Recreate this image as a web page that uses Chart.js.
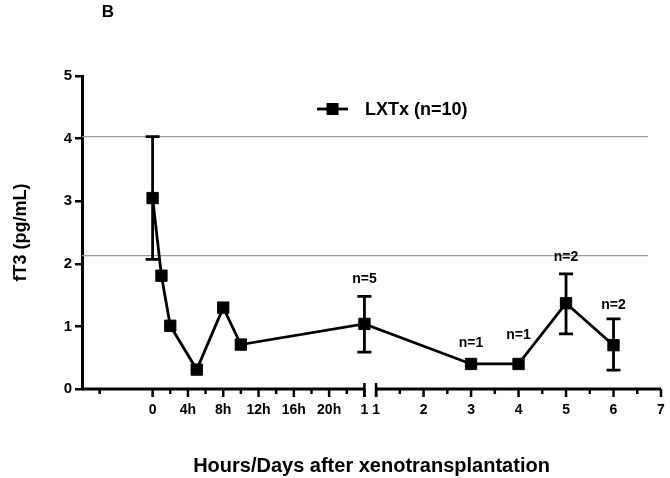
<!DOCTYPE html>
<html>
<head>
<meta charset="utf-8">
<script src="https://cdn.jsdelivr.net/npm/chart.js@4.4.0/dist/chart.umd.min.js"></script>
<style>
  html, body { margin: 0; padding: 0; background: #fff; }
</style>
</head>
<body>
<canvas id="myChart" width="670" height="478"></canvas>
<script>
// hours segment (0h .. 24h = day 1)
const hours = [0, 1, 2, 5, 8, 10, 24];
const hourValues = [3.05, 1.81, 1.01, 0.31, 1.30, 0.71, 1.04];
const hourErrLow = [2.07, null, null, null, null, null, 0.59];
const hourErrHigh = [4.03, null, null, null, null, null, 1.48];

// days segment
const days = [3, 4, 5, 6];
const dayValues = [0.40, 0.40, 1.37, 0.70];
const dayErrLow = [null, null, 0.88, 0.30];
const dayErrHigh = [null, null, 1.84, 1.12];

const hourTicks = [0, 4, 8, 12, 16, 20, 24];
const hourLabels = ["0", "4h", "8h", "12h", "16h", "20h", "1"];
const hourMinor = [-6, 2, 6, 10, 14, 18, 22];
const dayTicks = [1, 2, 3, 4, 5, 6, 7];
const dayLabels = ["1", "2", "3", "4", "5", "6", "7"];
const dayMinor = [1.5, 2.5, 3.5, 4.5, 5.5, 6.5];
const yTicks = [0, 1, 2, 3, 4, 5];

// "n=" notes, attached to point index in the combined series
const nLabels = ["n=5", "n=1", "n=1", "n=2", "n=2"];
const nLabelPoint = [6, 7, 8, 9, 10];
const nLabelValues = [1.76, 0.74, 0.86, 2.11, 1.34];

const refLines = [4.03, 2.13];

// broken axis: one linear scale, hours then a gap, then days
const HOUR_MIN = -8;
const HOUR_MAX = 24;
const GAP = 1.32;
const DAY_W = 5.38;
function dayToX(d) {
  return HOUR_MAX + GAP + (d - 1) * DAY_W;
}

const FONT = "'Liberation Sans', Arial, sans-serif";

const points = hours.map((h, i) => ({ x: h, y: hourValues[i] }))
  .concat(days.map((d, i) => ({ x: dayToX(d), y: dayValues[i] })));
const errLow = hourErrLow.concat(dayErrLow);
const errHigh = hourErrHigh.concat(dayErrHigh);
const xLabels = hourLabels.concat(dayLabels);

const brokenAxis = {
  id: "brokenAxis",
  beforeDatasetsDraw(chart) {
    const { ctx, chartArea, scales } = chart;
    ctx.save();
    ctx.strokeStyle = "#9a9a9a";
    ctx.lineWidth = 1.2;
    refLines.forEach(v => {
      const y = scales.y.getPixelForValue(v);
      ctx.beginPath();
      ctx.moveTo(chartArea.left, y);
      ctx.lineTo(chartArea.right - 13, y);
      ctx.stroke();
    });
    ctx.restore();
  },
  afterDatasetsDraw(chart) {
    const { ctx, chartArea, scales } = chart;
    const xs = scales.x, ys = scales.y;
    ctx.save();
    ctx.strokeStyle = "#000";
    ctx.fillStyle = "#000";
    ctx.lineWidth = 2.8;

    // error bars
    points.forEach((p, i) => {
      if (errLow[i] == null) return;
      const x = xs.getPixelForValue(p.x);
      const yl = ys.getPixelForValue(errLow[i]);
      const yh = ys.getPixelForValue(errHigh[i]);
      ctx.beginPath();
      ctx.moveTo(x, yl); ctx.lineTo(x, yh);
      ctx.moveTo(x - 7, yl); ctx.lineTo(x + 7, yl);
      ctx.moveTo(x - 7, yh); ctx.lineTo(x + 7, yh);
      ctx.stroke();
    });

    // n= notes
    ctx.font = "bold 14px " + FONT;
    ctx.textAlign = "center";
    ctx.textBaseline = "middle";
    nLabels.forEach((t, i) => {
      const p = points[nLabelPoint[i]];
      ctx.fillText(t, xs.getPixelForValue(p.x), ys.getPixelForValue(nLabelValues[i]));
    });

    // x axis in two pieces
    const y0 = chartArea.bottom;
    const segs = [[HOUR_MIN, HOUR_MAX], [dayToX(1), dayToX(7)]];
    ctx.lineWidth = 2.8;
    segs.forEach(s => {
      ctx.beginPath();
      ctx.moveTo(xs.getPixelForValue(s[0]), y0);
      ctx.lineTo(xs.getPixelForValue(s[1]), y0);
      ctx.stroke();
    });
    const tick = (v, up, down) => {
      const x = xs.getPixelForValue(v);
      ctx.beginPath();
      ctx.moveTo(x, y0 - up);
      ctx.lineTo(x, y0 + down);
      ctx.stroke();
    };
    ctx.lineWidth = 2.5;
    hourTicks.forEach(h => tick(h, 0, 8));
    hourMinor.forEach(h => tick(h, 0, 5));
    dayTicks.forEach(d => tick(dayToX(d), 0, 8));
    dayMinor.forEach(d => tick(dayToX(d), 0, 5));
    tick(HOUR_MAX, 6, 8);
    tick(dayToX(1), 6, 8);

    // legend
    const ds = chart.data.datasets[0];
    ctx.lineWidth = 2.8;
    ctx.beginPath();
    ctx.moveTo(317, 109); ctx.lineTo(348, 109);
    ctx.stroke();
    ctx.fillRect(332.5 - 6, 109 - 6, 12, 12);
    ctx.font = "bold 18px " + FONT;
    ctx.textAlign = "left";
    ctx.fillText(ds.label, 365, 110);

    // panel letter
    ctx.font = "bold 17px " + FONT;
    ctx.textAlign = "center";
    ctx.fillText("B", 108, 12);
    ctx.restore();
  }
};

const ctx = document.getElementById("myChart").getContext("2d");
const myChart = new Chart(ctx, {
  type: "line",
  data: {
    datasets: [
      {
        label: "LXTx (n=10)",
        data: points,
        borderColor: "#000",
        backgroundColor: "#000",
        borderWidth: 2.8,
        pointStyle: "rect",
        pointRadius: 8,
        pointBorderWidth: 1,
        tension: 0
      }
    ]
  },
  options: {
    responsive: false,
    animation: false,
    devicePixelRatio: 1,
    layout: { padding: { top: 76, right: 8, left: 0, bottom: 0 } },
    plugins: {
      legend: { display: false },
      tooltip: { enabled: false }
    },
    scales: {
      x: {
        type: "linear",
        min: HOUR_MIN,
        max: dayToX(7),
        grid: { display: false, drawTicks: false },
        border: { display: false },
        afterBuildTicks: s => {
          s.ticks = hourTicks.map(v => ({ value: v }))
            .concat(dayTicks.map(d => ({ value: dayToX(d) })));
        },
        ticks: {
          autoSkip: false,
          maxRotation: 0,
          padding: 13,
          color: "#000",
          font: { family: FONT, size: 14, weight: "bold" },
          callback: (v, i) => xLabels[i]
        },
        afterFit: s => {
          s.height = 89;
          s.paddingLeft = 0;
          s.paddingRight = 0;
        },
        title: {
          display: true,
          text: "Hours/Days after xenotransplantation",
          color: "#000",
          font: { family: FONT, size: 20, weight: "bold" },
          padding: { top: 0, bottom: 0 }
        }
      },
      y: {
        min: 0,
        max: 5,
        afterBuildTicks: s => { s.ticks = yTicks.map(v => ({ value: v })); },
        ticks: {
          padding: 3,
          color: "#000",
          font: { family: FONT, size: 15, weight: "bold" }
        },
        grid: { drawOnChartArea: false, tickLength: 7, lineWidth: 2.5, color: "#000" },
        border: { width: 3, color: "#000" },
        afterFit: s => {
          s.width = 82;
          s.paddingTop = 0;
          s.paddingBottom = 0;
        },
        title: {
          display: true,
          text: "fT3 (pg/mL)",
          color: "#000",
          font: { family: FONT, size: 18, weight: "bold" },
          padding: { top: 10, bottom: 0 }
        }
      }
    }
  },
  plugins: [brokenAxis]
});
</script>
</body>
</html>
